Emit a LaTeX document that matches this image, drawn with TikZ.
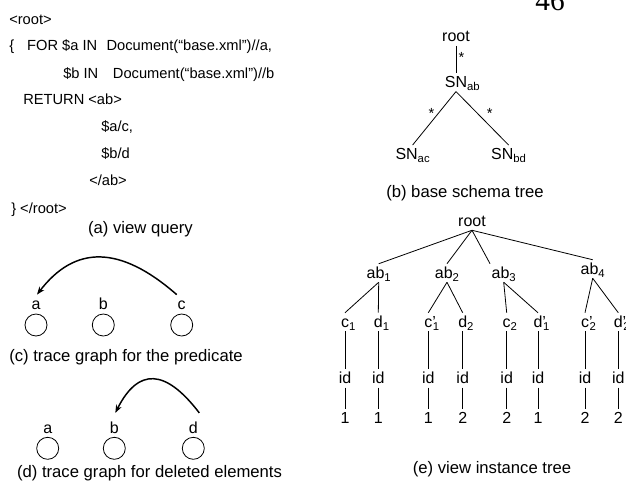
\documentclass[tikz,border=0pt]{standalone}
\usepackage{fontspec}
\setmainfont{Liberation Sans}
\newfontfamily\pagenumfont{Liberation Serif}
\usepackage{tikz}
\usetikzlibrary{positioning,calc,arrows.meta}

\newcommand{\subs}[1]{\raisebox{-2.5pt}{\fontsize{8.5}{10}\selectfont #1}}
\newcommand{\rsub}[1]{\rlap{\subs{#1}}}

\tikzset{
    codeline/.style={anchor=base west, inner sep=0pt, font=\fontsize{11}{13}\selectfont},
    figcaption/.style={anchor=base, inner sep=0pt, font=\fontsize{12.5}{15}\selectfont},
    treelabel/.style={anchor=base, inner sep=1pt, text height=9.5pt, text depth=2pt, font=\fontsize{12}{14}\selectfont},
    treeedge/.style={draw=black, line width=0.6pt},
    startag/.style={inner sep=1pt, font=\fontsize{11}{13}\selectfont},
    tracenode/.style={circle, draw=black, line width=0.6pt, minimum size=16.5pt, inner sep=0pt},
    tracelabel/.style={inner sep=0pt, font=\fontsize{12}{14}\selectfont},
    tracearc/.style={line width=1.1pt, -{Stealth[length=6pt,width=4.5pt]}}
}

\begin{document}
\begin{tikzpicture}[x=0.75pt, y=0.75pt]
    \useasboundingbox (0,0) rectangle (626,-480);

    % Page number - top right, cut by the page edge
    \node [anchor=base, inner sep=0pt, font=\pagenumfont\fontsize{22}{26}\selectfont] (pagenum) at (550,-10) {46};

    % View query - top left
    \node [codeline] (q1) at (9,-24) {<root>};
    \node [codeline] (q2) at (9,-50) {\{\hspace{9.75pt}FOR \$a IN\hspace{7pt}Document(“base.xml”)//a,};
    \node [codeline] (q3) at (63,-78) {\$b IN\hspace{11pt}Document(“base.xml”)//b};
    \node [codeline] (q4) at (23,-104) {RETURN <ab>};
    \node [codeline] (q5) at (101,-131) {\$a/c,};
    \node [codeline] (q6) at (101,-158) {\$b/d};
    \node [codeline] (q7) at (89,-185) {</ab>};
    \node [codeline] (q8) at (11,-213) {\} </root>};
    \node [figcaption] (capa) at (140.5,-233.5) {(a) view query};

    % Base schema tree - top right
    \node [treelabel] (sroot) at (456,-41.7) {root};
    \node [treelabel] (snab) at (456,-87.3) {SN\rsub{ab}};
    \node [treelabel] (snac) at (412.6,-159.3) {SN\subs{ac}};
    \node [treelabel] (snbd) at (508.6,-159.3) {SN\subs{bd}};
    \node [figcaption] (capb) at (465,-197.5) {(b) base schema tree};

    \draw [treeedge] (sroot.south) -- (snab.north) node[startag, pos=0.41, right=0.7pt] {*};
    \draw [treeedge] (snab.south) -- (snac.north) node[startag, pos=0.4, left=2pt] {*};
    \draw [treeedge] (snab.south) -- (snbd.north) node[startag, pos=0.4, right=6pt] {*};

    % Trace graph for the predicate - middle left
    \node [tracenode] (pa) at (36,-325) {};
    \node [tracenode] (pb) at (103.3,-325) {};
    \node [tracenode] (pc) at (181.7,-325) {};
    \node [tracelabel, above=2.5pt of pa] (pla) {a};
    \node [tracelabel, above=2.5pt of pb] (plb) {b};
    \node [tracelabel, above=2.5pt of pc] (plc) {c};
    \node [figcaption] (capc) at (126,-361) {(c) trace graph for the predicate};

    \draw [tracearc] ($(pc.north)+(-5,19)$) .. controls (120,-245) and (75,-245) .. ($(pa.north)+(1,19)$);

    % Trace graph for deleted elements - bottom left
    \node [tracenode] (da) at (47.7,-448.3) {};
    \node [tracenode] (db) at (114.3,-448.3) {};
    \node [tracenode] (dd) at (193.3,-448.3) {};
    \node [tracelabel, above=2.5pt of da] (dla) {a};
    \node [tracelabel, above=2.5pt of db] (dlb) {b};
    \node [tracelabel, above=2.5pt of dd] (dld) {d};
    \node [figcaption] (capd) at (149.5,-477) {(d) trace graph for deleted elements};

    \draw [tracearc] ($(dd.north)+(6,24)$) .. controls (165,-368) and (138,-368) .. ($(db.north)+(1,24)$);

    % View instance tree - bottom right
    \node [treelabel] (vroot) at (472,-226) {root};
    \node [treelabel] (ab1) at (378.7,-278) {ab\subs{1}};
    \node [treelabel] (ab2) at (447,-278) {ab\subs{2}};
    \node [treelabel] (ab3) at (503.7,-278) {ab\subs{3}};
    \node [treelabel] (ab4) at (592.7,-274) {ab\subs{4}};

    \node [treelabel] (c1) at (345,-327) {c\rsub{1}};
    \node [treelabel] (d1) at (378.3,-327) {d\rsub{1}};
    \node [treelabel] (c1p) at (428.3,-327) {c\rlap{’}\rsub{\kern0.5pt 1}};
    \node [treelabel] (d2) at (462.7,-327) {d\rsub{2}};
    \node [treelabel] (c2) at (506.7,-327) {c\rsub{2}};
    \node [treelabel] (d1p) at (538,-327) {d\rlap{’}\rsub{\kern0.5pt 1}};
    \node [treelabel] (c2p) at (585,-327) {c\rlap{’}\rsub{\kern0.5pt 2}};
    \node [treelabel] (d2p) at (618.3,-327) {d\rlap{’}\rsub{\kern0.5pt 2}};

    \node [treelabel] (idc1) at (345,-383.3) {id};
    \node [treelabel] (idd1) at (378.3,-383.3) {id};
    \node [treelabel] (idc1p) at (428.3,-383.3) {id};
    \node [treelabel] (idd2) at (462.7,-383.3) {id};
    \node [treelabel] (idc2) at (506.7,-383.3) {id};
    \node [treelabel] (idd1p) at (538,-383.3) {id};
    \node [treelabel] (idc2p) at (585,-383.3) {id};
    \node [treelabel] (idd2p) at (618.3,-383.3) {id};

    \node [treelabel] (valc1) at (345,-423.3) {1};
    \node [treelabel] (vald1) at (378.3,-423.3) {1};
    \node [treelabel] (valc1p) at (428.3,-423.3) {1};
    \node [treelabel] (vald2) at (462.7,-423.3) {2};
    \node [treelabel] (valc2) at (506.7,-423.3) {2};
    \node [treelabel] (vald1p) at (538,-423.3) {1};
    \node [treelabel] (valc2p) at (585,-423.3) {2};
    \node [treelabel] (vald2p) at (618.3,-423.3) {2};

    \node [figcaption] (cape) at (492,-473.5) {(e) view instance tree};

    \draw [treeedge] (vroot.south) -- (ab1.north);
    \draw [treeedge] (vroot.south) -- (ab2.north);
    \draw [treeedge] (vroot.south) -- (ab3.north west);
    \draw [treeedge] (vroot.south) -- (ab4.north);

    \draw [treeedge] (ab1.south) -- (c1.north);
    \draw [treeedge] (ab1.south) -- (d1.north);
    \draw [treeedge] (ab2.south) -- (c1p.north);
    \draw [treeedge] (ab2.south) -- (d2.north);
    \draw [treeedge] (ab3.south) -- (c2.north);
    \draw [treeedge] (ab3.south) -- (d1p.north);
    \draw [treeedge] (ab4.south) -- (c2p.north);
    \draw [treeedge] (ab4.south) -- (d2p.north);

    \draw [treeedge] (c1.south) -- (idc1.north);
    \draw [treeedge] (d1.south) -- (idd1.north);
    \draw [treeedge] (c1p.south) -- (idc1p.north);
    \draw [treeedge] (d2.south) -- (idd2.north);
    \draw [treeedge] (c2.south) -- (idc2.north);
    \draw [treeedge] (d1p.south) -- (idd1p.north);
    \draw [treeedge] (c2p.south) -- (idc2p.north);
    \draw [treeedge] (d2p.south) -- (idd2p.north);

    \draw [treeedge] (idc1.south) -- (valc1.north);
    \draw [treeedge] (idd1.south) -- (vald1.north);
    \draw [treeedge] (idc1p.south) -- (valc1p.north);
    \draw [treeedge] (idd2.south) -- (vald2.north);
    \draw [treeedge] (idc2.south) -- (valc2.north);
    \draw [treeedge] (idd1p.south) -- (vald1p.north);
    \draw [treeedge] (idc2p.south) -- (valc2p.north);
    \draw [treeedge] (idd2p.south) -- (vald2p.north);

\end{tikzpicture}
\end{document}
